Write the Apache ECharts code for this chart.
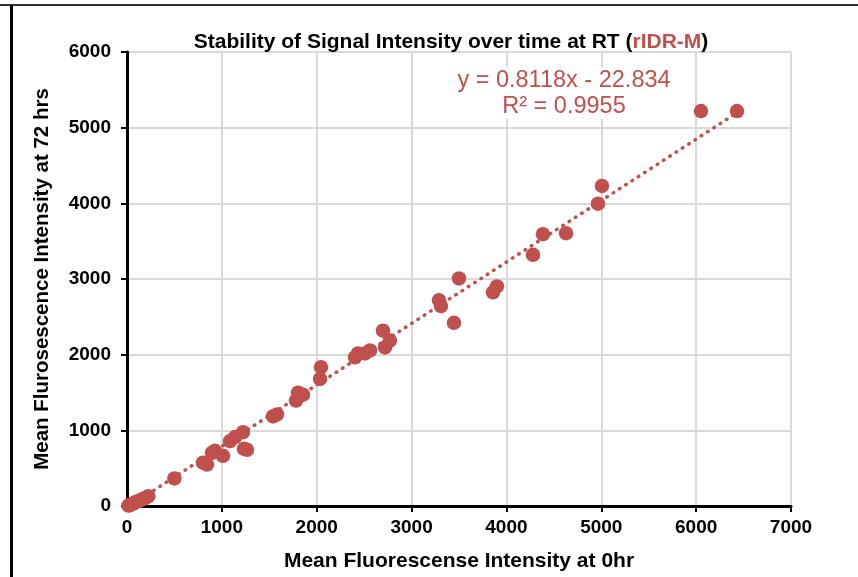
<!DOCTYPE html>
<html>
<head>
<meta charset="utf-8">
<script src="https://cdn.jsdelivr.net/npm/echarts@6/dist/echarts.min.js"></script>
<style>
html,body{margin:0;padding:0;background:#fff;}
#chart{width:858px;height:577px;}
</style>
</head>
<body>
<div id="chart"></div>
<script>
// Data
const xValues = [15,30,45,60,75,90,110,130,150,170,200,225,
  500,801,843,896,928,1012,1086,1139,1223,1265,1233,
  1539,1581,1782,1824,1803,1855,2035,2045,
  2404,2435,2509,2562,2720,2772,2699,
  3289,3310,3447,3500,3858,3900,
  4280,4385,4628,4965,5007,6051,6431];
const yValues = [5,10,20,30,40,50,60,70,80,95,110,130,
  365,573,547,703,729,664,859,911,976,742,755,
  1184,1210,1393,1458,1497,1471,1679,1835,
  1965,2017,2017,2056,2095,2187,2317,
  2720,2642,2421,3007,2824,2902,
  3319,3592,3605,3996,4230,5219,5219];
const trendSlope = 0.8118;
const trendIntercept = -22.834;
const xTicks = [0,1000,2000,3000,4000,5000,6000,7000];
const yTicks = [0,1000,2000,3000,4000,5000,6000];
const titleMain = 'Stability of Signal Intensity over time at RT (';
const titleTag = 'rIDR-M';
const eqText = 'y = 0.8118x - 22.834';
const r2Text = 'R² = 0.9955';
const xName = 'Mean Fluorescense Intensity at 0hr';
const yName = 'Mean Flurosescence Intensity at 72 hrs';

const red = '#C0504D';
const pts = xValues.map((x,i)=>[x,yValues[i]]);
const xmin = Math.min(...xValues), xmax = Math.max(...xValues);
const trend = [[xmin, trendSlope*xmin+trendIntercept],[xmax, trendSlope*xmax+trendIntercept]];

const chart = echarts.init(document.getElementById('chart'));
const font = 'Liberation Sans, Arial, sans-serif';
chart.setOption({
  animation:false,
  backgroundColor:'#fff',
  textStyle:{fontFamily:font},
  title:{
    text:'{a|'+titleMain+'}{b|'+titleTag+'}{a|)}',
    left:446, top:27, textAlign:'center',
    textStyle:{rich:{
      a:{fontFamily:font,fontWeight:'bold',fontSize:21,color:'#000'},
      b:{fontFamily:font,fontWeight:'bold',fontSize:21,color:red}
    }}
  },
  grid:{left:127,right:67,top:52,bottom:64},
  xAxis:{
    type:'value',min:xTicks[0],max:xTicks[xTicks.length-1],interval:1000,
    name:xName,nameLocation:'middle',nameGap:45,
    nameTextStyle:{fontFamily:font,fontWeight:'bold',fontSize:21,color:'#000'},
    axisLine:{show:true,onZero:false,lineStyle:{color:'#000',width:3}},
    axisTick:{show:true,length:6,lineStyle:{color:'#000',width:2}},
    axisLabel:{fontFamily:font,fontWeight:'bold',fontSize:19,color:'#000',margin:12,formatter:v=>String(v)},
    splitLine:{show:true,lineStyle:{color:'#d9d9d9',width:2}}
  },
  yAxis:{
    type:'value',min:yTicks[0],max:yTicks[yTicks.length-1],interval:1000,
    name:yName,nameLocation:'middle',nameGap:74,
    nameTextStyle:{fontFamily:font,fontWeight:'bold',fontSize:20.5,color:'#000'},
    axisLine:{show:true,onZero:false,lineStyle:{color:'#000',width:3}},
    axisTick:{show:true,length:6,lineStyle:{color:'#000',width:2}},
    axisLabel:{fontFamily:font,fontWeight:'bold',fontSize:19,color:'#000',margin:16,formatter:v=>String(v)},
    splitLine:{show:true,lineStyle:{color:'#d9d9d9',width:2}}
  },
  series:[
    {type:'scatter',data:pts,symbolSize:14.5,itemStyle:{color:red,opacity:1},z:2},
    {type:'line',data:trend,symbol:'none',z:3,
     lineStyle:{color:red,width:3.5,type:[0.5,7],cap:'round'}}
  ],
  graphic:[
    {type:'rect',shape:{x:452,y:67,width:224,height:52},style:{fill:'#fff'},z:5},
    {type:'text',x:564,y:81,style:{text:eqText,fill:red,font:'23.5px '+font,textAlign:'center',textVerticalAlign:'middle'},z:6},
    {type:'text',x:564,y:107,style:{text:r2Text,fill:red,font:'23.5px '+font,textAlign:'center',textVerticalAlign:'middle'},z:6},
    {type:'line',shape:{x1:0,y1:5,x2:858,y2:5},style:{stroke:'#333',lineWidth:2},z:6},
    {type:'line',shape:{x1:11.5,y1:5,x2:11.5,y2:577},style:{stroke:'#000',lineWidth:3},z:6}
  ]
});
</script>
</body>
</html>
